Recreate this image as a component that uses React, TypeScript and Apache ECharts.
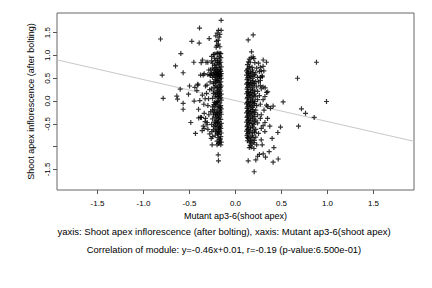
import React, { useEffect, useRef } from "react";
import * as echarts from "echarts";

const xTickValues = [-1.5, -1.0, -0.5, 0.0, 0.5, 1.0, 1.5];
const yTickValues = [-1.5, -1.0, -0.5, 0.0, 0.5, 1.0, 1.5];
const yLabelValues = [-1.5, -0.5, 0.0, 0.5, 1.0, 1.5];

const xTitle = "Mutant ap3-6(shoot apex)";
const yTitle = "Shoot apex inflorescence (after bolting)";
const caption1 = "yaxis: Shoot apex inflorescence (after bolting), xaxis: Mutant ap3-6(shoot apex)";
const caption2 = "Correlation of module: y=-0.46x+0.01, r=-0.19 (p-value:6.500e-01)";

const fitSlope = -0.46;
const fitIntercept = 0.01;

const leftScatter = [
  [-0.815, 1.36], [-0.797, 0.57], [-0.786, 0.06], [-0.652, 0.77], [-0.638, 0.11], [-0.63, 0.04],
  [-0.594, 1.04], [-0.601, 0.26], [-0.569, 0.62], [-0.569, -0.05], [-0.569, -0.18], [-0.511, 0.15],
  [-0.5, 0.33], [-0.486, -0.47], [-0.475, 1.31], [-0.453, 0.85], [-0.449, 0.0], [-0.442, 0.3],
  [-0.435, -0.71], [-0.42, 0.23], [-0.409, 0.37], [-0.395, 1.27], [-0.402, -0.18], [-0.391, 1.6],
  [-0.388, 0.01], [-0.38, -0.36], [-0.373, 0.84], [-0.359, 0.9], [-0.351, 0.57], [-0.362, -0.65],
  [-0.344, -0.07], [-0.341, -0.6], [-0.326, 0.33], [-0.326, -0.38], [-0.315, 0.17], [-0.308, -0.47],
  [-0.301, 0.85], [-0.293, 0.05], [-0.286, 1.37], [-0.279, 0.57], [-0.275, 0.42], [-0.264, -0.82],
  [-0.257, -0.67], [-0.246, -0.2], [-0.4, -0.37], [-0.37, -0.36], [-0.33, -0.45], [-0.31, -0.52],
  [-0.36, 0.13], [-0.33, 0.05], [-0.3, -0.1], [-0.34, -0.27], [-0.41, 0.35], [-0.38, 0.57],
  [-0.3, 0.58], [-0.32, 0.85], [-0.28, 0.25], [-0.29, -0.3], [-0.3, -0.62], [-0.35, -0.55],
  [-0.28, -0.72], [-0.34, 0.6], [-0.31, 0.35], [-0.29, 0.68],
];

const leftBand = [
  [-0.156, 1.77], [-0.185, 1.55], [-0.156, 1.55], [-0.199, 1.49], [-0.17, 1.46], [-0.214, 1.43],
  [-0.178, 1.4], [-0.207, 1.31], [-0.19, 1.33], [-0.2, 1.22], [-0.185, 1.25], [-0.17, 1.19],
  [-0.21, 1.18], [-0.225, 1.03], [-0.19, 1.05], [-0.17, 1.05], [-0.16, 1.04], [-0.2, 1.05],
  [-0.24, 1.02], [-0.26, 0.98], [-0.16, 0.95], [-0.2, 0.93], [-0.23, 0.94], [-0.17, 0.9],
  [-0.26, 0.88], [-0.22, 0.88], [-0.16, 0.85], [-0.19, 0.84], [-0.25, 0.83], [-0.21, 0.8],
  [-0.17, 0.79], [-0.23, 0.78], [-0.155, 0.75], [-0.19, 0.74], [-0.25, 0.72], [-0.17, 0.7],
  [-0.21, 0.69], [-0.27, 0.68], [-0.16, 0.65], [-0.2, 0.64], [-0.23, 0.63], [-0.18, 0.62],
  [-0.155, 0.6], [-0.17, 0.59], [-0.19, 0.6], [-0.21, 0.58], [-0.24, 0.59], [-0.27, 0.57],
  [-0.22, 0.61], [-0.26, 0.61], [-0.16, 0.55], [-0.18, 0.54], [-0.2, 0.56], [-0.23, 0.55],
  [-0.25, 0.52], [-0.155, 0.5], [-0.17, 0.48], [-0.19, 0.5], [-0.22, 0.47], [-0.2, 0.45],
  [-0.16, 0.42], [-0.18, 0.4], [-0.21, 0.41], [-0.24, 0.38], [-0.17, 0.36], [-0.155, 0.33],
  [-0.19, 0.31], [-0.2, 0.28], [-0.23, 0.3], [-0.17, 0.26], [-0.26, 0.27], [-0.16, 0.22],
  [-0.18, 0.2], [-0.21, 0.19], [-0.19, 0.16], [-0.24, 0.17], [-0.155, 0.15], [-0.17, 0.12],
  [-0.2, 0.1], [-0.22, 0.09], [-0.16, 0.07], [-0.18, 0.05], [-0.25, 0.06], [-0.155, 0.02],
  [-0.19, 0.0], [-0.21, -0.02], [-0.17, -0.04], [-0.23, -0.03], [-0.2, -0.07], [-0.16, -0.1],
  [-0.18, -0.12], [-0.22, -0.11], [-0.19, -0.15], [-0.25, -0.13], [-0.155, -0.17], [-0.17, -0.2],
  [-0.2, -0.22], [-0.23, -0.19], [-0.16, -0.24], [-0.21, -0.26], [-0.27, -0.23], [-0.155, -0.29],
  [-0.18, -0.31], [-0.2, -0.33], [-0.24, -0.3], [-0.17, -0.35], [-0.22, -0.36], [-0.16, -0.4],
  [-0.19, -0.41], [-0.21, -0.43], [-0.25, -0.39], [-0.18, -0.45], [-0.23, -0.46], [-0.155, -0.49],
  [-0.17, -0.52], [-0.2, -0.5], [-0.22, -0.54], [-0.26, -0.51], [-0.19, -0.56], [-0.16, -0.6],
  [-0.18, -0.62], [-0.21, -0.61], [-0.24, -0.63], [-0.17, -0.66], [-0.2, -0.68], [-0.155, -0.7],
  [-0.18, -0.73], [-0.22, -0.75], [-0.16, -0.78], [-0.19, -0.8], [-0.25, -0.78], [-0.17, -0.85],
  [-0.2, -0.88], [-0.155, -0.9], [-0.185, -0.93], [-0.16, -0.96], [-0.254, -0.96], [-0.2, -0.96],
  [-0.188, -1.18], [-0.185, -1.31], [-0.165, -0.83], [-0.175, 0.83], [-0.165, 0.68], [-0.185, 0.58],
  [-0.165, 0.3], [-0.185, 0.09], [-0.165, -0.14], [-0.185, -0.38], [-0.165, -0.55], [-0.185, -0.67],
  [-0.215, 0.72], [-0.215, 0.52], [-0.215, 0.34], [-0.215, 0.14], [-0.215, -0.06], [-0.215, -0.3],
  [-0.215, -0.48], [-0.215, -0.66], [-0.235, 0.68], [-0.235, 0.42], [-0.235, 0.22], [-0.235, -0.08],
  [-0.235, -0.26], [-0.235, -0.56], [-0.195, 0.88], [-0.195, 0.66], [-0.195, 0.44], [-0.195, 0.24],
  [-0.195, -0.02], [-0.195, -0.28], [-0.195, -0.47], [-0.195, -0.72], [-0.175, 0.98], [-0.175, 0.55],
  [-0.175, 0.17], [-0.175, -0.25], [-0.175, -0.58], [-0.175, -0.9],
];

const rightBand = [
  [0.192, 1.45], [0.138, 1.34], [0.174, 1.08], [0.192, 0.97], [0.17, 0.95], [0.2, 0.93],
  [0.15, 0.92], [0.14, 0.86], [0.16, 0.85], [0.21, 0.84], [0.25, 0.83], [0.13, 0.8],
  [0.15, 0.76], [0.18, 0.74], [0.23, 0.72], [0.27, 0.74], [0.13, 0.7], [0.12, 0.66],
  [0.16, 0.65], [0.19, 0.63], [0.22, 0.62], [0.26, 0.65], [0.14, 0.61], [0.28, 0.66],
  [0.12, 0.57], [0.15, 0.56], [0.17, 0.54], [0.2, 0.55], [0.24, 0.52], [0.13, 0.51],
  [0.29, 0.55], [0.27, 0.52], [0.125, 0.47], [0.16, 0.46], [0.19, 0.44], [0.22, 0.43],
  [0.14, 0.41], [0.18, 0.4], [0.25, 0.42], [0.12, 0.37], [0.15, 0.36], [0.2, 0.35],
  [0.17, 0.33], [0.23, 0.31], [0.13, 0.3], [0.27, 0.34], [0.125, 0.26], [0.16, 0.25],
  [0.19, 0.24], [0.21, 0.22], [0.14, 0.2], [0.18, 0.19], [0.24, 0.21], [0.28, 0.27],
  [0.12, 0.16], [0.15, 0.14], [0.2, 0.13], [0.17, 0.11], [0.22, 0.1], [0.13, 0.08],
  [0.26, 0.12], [0.125, 0.05], [0.16, 0.04], [0.19, 0.02], [0.14, 0.0], [0.21, -0.01],
  [0.18, -0.03], [0.24, 0.03], [0.12, -0.06], [0.15, -0.07], [0.2, -0.09], [0.17, -0.11],
  [0.23, -0.1], [0.13, -0.13], [0.27, -0.07], [0.125, -0.16], [0.16, -0.17], [0.19, -0.19],
  [0.14, -0.21], [0.22, -0.2], [0.18, -0.23], [0.12, -0.26], [0.15, -0.27], [0.2, -0.28],
  [0.17, -0.31], [0.13, -0.33], [0.24, -0.3], [0.21, -0.34], [0.125, -0.36], [0.16, -0.38],
  [0.19, -0.39], [0.14, -0.41], [0.22, -0.42], [0.27, -0.38], [0.12, -0.46], [0.15, -0.47],
  [0.18, -0.49], [0.2, -0.51], [0.13, -0.53], [0.24, -0.48], [0.125, -0.56], [0.16, -0.58],
  [0.19, -0.59], [0.14, -0.61], [0.22, -0.62], [0.28, -0.6], [0.12, -0.66], [0.15, -0.68],
  [0.18, -0.7], [0.21, -0.69], [0.13, -0.72], [0.25, -0.71], [0.125, -0.76], [0.16, -0.78],
  [0.19, -0.8], [0.14, -0.82], [0.22, -0.79], [0.17, -0.85], [0.13, -0.87], [0.15, -0.9],
  [0.2, -0.91], [0.18, -0.94], [0.16, -0.97], [0.23, -0.96], [0.17, -1.01], [0.2, -1.04],
  [0.15, -1.02], [0.203, -1.55], [0.138, -1.31], [0.221, -1.29], [0.24, -1.21], [0.26, -1.17],
  [0.145, 0.72], [0.145, 0.52], [0.145, 0.33], [0.145, 0.12], [0.145, -0.1], [0.145, -0.31],
  [0.145, -0.5], [0.145, -0.7], [0.165, 0.6], [0.165, 0.4], [0.165, 0.18], [0.165, -0.02],
  [0.165, -0.24], [0.165, -0.43], [0.165, -0.64], [0.165, -0.88], [0.185, 0.68], [0.185, 0.5],
  [0.185, 0.29], [0.185, 0.07], [0.185, -0.14], [0.185, -0.35], [0.185, -0.55], [0.185, -0.75],
  [0.13, 0.62], [0.13, 0.4], [0.13, 0.2], [0.13, -0.03], [0.13, -0.22], [0.13, -0.42],
  [0.13, -0.62], [0.13, -0.8], [0.205, 0.58], [0.205, 0.38], [0.205, 0.16], [0.205, -0.05],
  [0.205, -0.25], [0.205, -0.45], [0.205, -0.66], [0.205, -0.86],
];

const rightScatter = [
  [0.301, 0.9], [0.337, 0.85], [0.308, 0.66], [0.29, 0.53], [0.337, 0.19], [0.322, 0.29],
  [0.3, 0.31], [0.337, -0.09], [0.35, -0.12], [0.38, -0.16], [0.409, -0.11], [0.518, -0.02],
  [0.348, -0.38], [0.32, -0.47], [0.3, -0.54], [0.373, -0.55], [0.489, -0.57], [0.46, -0.69],
  [0.319, -0.67], [0.398, -0.82], [0.417, -1.02], [0.366, -1.11], [0.301, -1.16], [0.326, -1.23],
  [0.464, -1.27], [0.409, -1.34], [0.674, 0.5], [0.685, -0.55], [0.717, -0.17], [0.761, -0.27],
  [0.855, -0.36], [0.88, 0.85], [0.989, -0.01], [0.3, 0.03], [0.31, -0.2], [0.28, -0.85],
  [0.29, -0.96], [0.27, 0.45], [0.3, 0.76], [0.32, 0.1], [0.28, -0.3], [0.35, 0.2],
];

const plusSymbol = "path://M3.8,0H6.2V3.8H10V6.2H6.2V10H3.8V6.2H0V3.8H3.8Z";
const FONT = "Liberation Sans, Arial, Helvetica, sans-serif";
const X_MIN = -1.94;
const X_MAX = 1.94;
const Y_MIN = -1.95;
const Y_MAX = 1.93;

export default function App() {
  const ref = useRef<HTMLDivElement>(null);
  useEffect(() => {
    if (!ref.current) return;
    document.body.style.margin = "0";
    const chart = echarts.init(ref.current, null, { renderer: "svg" });
    const allPoints = [...leftScatter, ...leftBand, ...rightBand, ...rightScatter];
    const fitLine = [
      [X_MIN, fitSlope * X_MIN + fitIntercept],
      [X_MAX, fitSlope * X_MAX + fitIntercept],
    ];
    chart.setOption({
      animation: false,
      backgroundColor: "#ffffff",
      textStyle: { fontFamily: FONT },
      grid: {
        left: 57,
        right: 18,
        top: 13,
        bottom: 98,
        show: true,
        borderColor: "#666666",
        borderWidth: 1,
        backgroundColor: "transparent",
      },
      xAxis: {
        type: "value",
        min: X_MIN,
        max: X_MAX,
        name: xTitle,
        nameLocation: "middle",
        nameGap: 21,
        nameTextStyle: { fontSize: 9, color: "#000", fontFamily: FONT },
        axisLine: { show: false, onZero: false },
        splitLine: { show: false },
        axisTick: {
          show: true,
          length: 4,
          inside: false,
          customValues: xTickValues,
          lineStyle: { color: "#555" },
        },
        axisLabel: {
          customValues: xTickValues,
          formatter: (v: number) => v.toFixed(1),
          fontSize: 8,
          color: "#000",
          margin: 9,
          fontFamily: FONT,
        },
      },
      yAxis: {
        type: "value",
        min: Y_MIN,
        max: Y_MAX,
        name: yTitle,
        nameLocation: "middle",
        nameGap: 19,
        nameRotate: 90,
        nameTextStyle: { fontSize: 9, color: "#000", fontFamily: FONT },
        axisLine: { show: false, onZero: false },
        splitLine: { show: false },
        axisTick: {
          show: true,
          length: 4,
          inside: false,
          customValues: yTickValues,
          lineStyle: { color: "#555" },
        },
        axisLabel: {
          customValues: yLabelValues,
          formatter: (v: number) => v.toFixed(1),
          rotate: 90,
          fontSize: 8,
          color: "#000",
          margin: 6,
          fontFamily: FONT,
        },
      },
      graphic: [
        {
          type: "text",
          x: 224,
          y: 231,
          style: {
            text: caption1,
            fontSize: 9.5,
            fontFamily: FONT,
            fill: "#000",
            textAlign: "center",
            textVerticalAlign: "middle",
          },
        },
        {
          type: "text",
          x: 224,
          y: 249,
          style: {
            text: caption2,
            fontSize: 9.4,
            fontFamily: FONT,
            fill: "#000",
            textAlign: "center",
            textVerticalAlign: "middle",
          },
        },
      ],
      series: [
        {
          type: "line",
          data: fitLine,
          symbol: "none",
          lineStyle: { color: "#c8c8c8", width: 1 },
          z: 1,
          silent: true,
        },
        {
          type: "scatter",
          data: allPoints,
          symbol: plusSymbol,
          symbolSize: 5,
          itemStyle: { color: "#000000" },
          z: 2,
          silent: true,
        },
      ],
    });
    return () => chart.dispose();
  }, []);
  return <div ref={ref} style={{ width: 432, height: 288 }} />;
}
